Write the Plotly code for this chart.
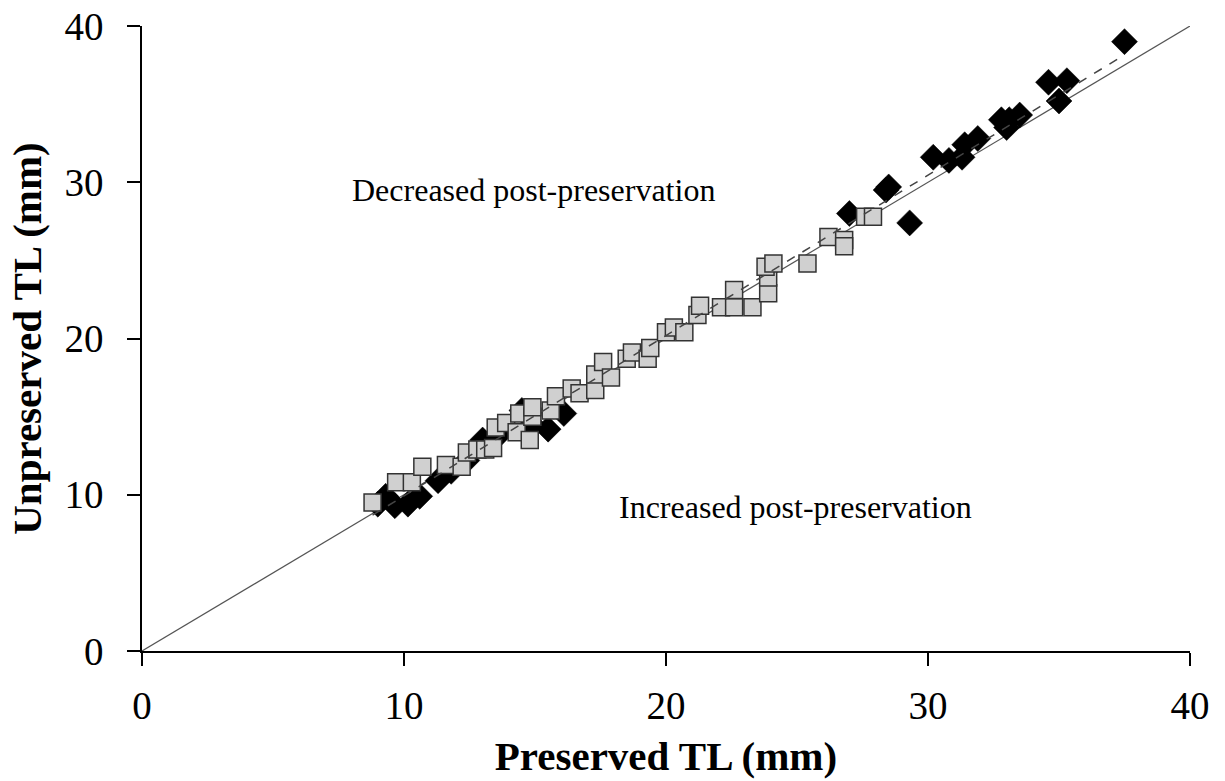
import numpy as np
import plotly.graph_objects as go

# Black diamonds (group 1)
dia_preserved = [9.0, 9.3, 9.65, 10.15, 10.6, 11.3, 11.8, 12.4, 13.0, 13.6, 14.5, 14.9, 15.5, 16.1,
                 27.0, 28.4, 28.5, 29.3, 30.2, 30.8, 31.3, 31.4, 31.9, 33.0, 32.8, 33.1, 33.5,
                 34.6, 35.0, 35.3, 37.5]
dia_unpreserved = [9.4, 9.9, 9.3, 9.4, 9.9, 10.9, 11.5, 12.2, 13.5, 13.8, 15.4, 14.5, 14.2, 15.2,
                   28.0, 29.5, 29.7, 27.4, 31.6, 31.4, 31.6, 32.4, 32.8, 33.5, 34.0, 34.0, 34.3,
                   36.4, 35.2, 36.5, 39.0]

# Grey squares (group 2)
sq_preserved = [8.8, 9.7, 10.3, 10.7, 11.6, 12.2, 12.4, 12.8, 13.1, 13.4, 13.5, 13.9, 14.3, 14.4,
                14.8, 14.9, 14.9, 15.6, 15.8, 16.4, 16.7, 17.3, 17.3, 17.6, 17.9, 18.5, 18.7,
                19.3, 19.4, 20.0, 20.3, 20.7, 21.2, 21.3, 22.1, 22.6, 22.6, 23.3, 23.9, 23.9,
                23.8, 24.1, 25.4, 26.2, 26.8, 26.8, 27.6, 27.9]
sq_unpreserved = [9.5, 10.8, 10.8, 11.8, 11.9, 11.8, 12.7, 12.9, 12.9, 13.0, 14.3, 14.6, 14.0, 15.2,
                  13.5, 15.0, 15.6, 15.4, 16.3, 16.8, 16.5, 16.7, 17.7, 18.5, 17.5, 18.7, 19.1,
                  18.7, 19.4, 20.4, 20.7, 20.4, 21.5, 22.1, 22.0, 22.0, 23.1, 22.0, 22.9, 23.9,
                  24.6, 24.8, 24.8, 26.5, 26.3, 25.9, 27.8, 27.8]

axis_range = [0, 40]
tick_vals = [0, 10, 20, 30, 40]

FONT = "Liberation Serif"

all_x = np.array(dia_preserved + sq_preserved)
all_y = np.array(dia_unpreserved + sq_unpreserved)
slope, intercept = np.polyfit(all_x, all_y, 1)
fit_x = np.array([all_x.min(), all_x.max()])
fit_y = slope * fit_x + intercept

fig = go.Figure()

# 1:1 line
fig.add_trace(go.Scatter(x=axis_range, y=axis_range, mode="lines",
                         line=dict(color="#555555", width=1.2), showlegend=False, hoverinfo="skip"))

fig.add_trace(go.Scatter(x=dia_preserved, y=dia_unpreserved, mode="markers",
                         marker=dict(symbol="diamond", size=20, color="black",
                                     line=dict(color="black", width=0.5)),
                         showlegend=False))

fig.add_trace(go.Scatter(x=sq_preserved, y=sq_unpreserved, mode="markers",
                         marker=dict(symbol="square", size=17, color="#d0d0d0",
                                     line=dict(color="#333333", width=1.5)),
                         showlegend=False))

fig.add_trace(go.Scatter(x=fit_x, y=fit_y, mode="lines",
                         line=dict(color="#444444", width=1.5, dash="dash"),
                         showlegend=False, hoverinfo="skip"))

fig.add_annotation(x=14.96, y=29.5, text="Decreased post-preservation", showarrow=False,
                   font=dict(family=FONT, size=32, color="black"))
fig.add_annotation(x=24.96, y=9.2, text="Increased post-preservation", showarrow=False,
                   font=dict(family=FONT, size=32, color="black"))

axis_common = dict(range=axis_range, tickvals=tick_vals, showgrid=False, zeroline=False,
                   showline=True, linecolor="black", linewidth=1.5, automargin=False,
                   ticks="outside", ticklen=13, tickwidth=1.5, tickcolor="black",
                   ticklabeloverflow="allow",
                   tickfont=dict(family=FONT, size=39, color="black"))

fig.update_xaxes(**axis_common, ticklabelstandoff=6,
                 title=dict(text="<b>Preserved TL (mm)</b>", standoff=16,
                            font=dict(family=FONT, size=41, color="black")))
fig.update_yaxes(**axis_common, ticklabelstandoff=16,
                 title=dict(text="<b>Unpreserved TL (mm)</b>", standoff=10,
                            font=dict(family=FONT, size=41, color="black")))

fig.update_layout(width=1225, height=781, plot_bgcolor="white", paper_bgcolor="white",
                  margin=dict(l=142, r=35, t=26, b=130))

# remove the default page margin so the figure fills the window exactly
fig.write_html("out.html", post_script="document.body.style.margin='0';",
               config={"displayModeBar": False})
